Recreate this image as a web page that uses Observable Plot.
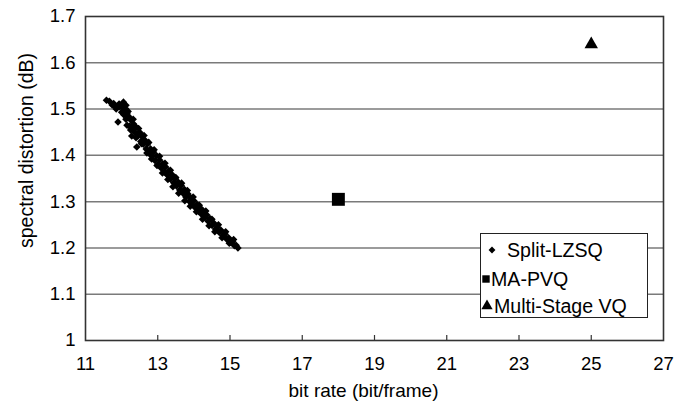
<!DOCTYPE html>
<html>
<head>
<meta charset="utf-8">
<script src="https://cdn.jsdelivr.net/npm/d3@7"></script>
<script src="https://cdn.jsdelivr.net/npm/@observablehq/plot@0.6"></script>
<style>
  body { margin: 0; background: #fff; }
  #wrap { position: relative; width: 688px; height: 408px; font-family: "Liberation Sans", Arial, sans-serif; }
  #legend { position: absolute; left: 480px; top: 233px; width: 168px; height: 85px; box-sizing: border-box;
            border: 1px solid #222; background: #fff; font-size: 19.6px; color: #000; }
  .row { position: absolute; height: 28px; line-height: 28px; white-space: nowrap; }
  .row svg { position: absolute; top: 0; }
</style>
</head>
<body>
<div id="wrap"></div>
<script>
// Split-LZSQ operating points (bit rate, spectral distortion)
const splitX = [11.58,11.66,11.74,11.8,11.88,11.95,12.03,12.1,11.9,
  12.0,12.06,12.12,12.15,12.2,12.22,12.26,12.3,12.33,12.37,12.4,12.42,12.45,12.5,12.53,12.57,12.6,12.64,12.68,12.72,12.76,12.8,12.84,12.88,
  12.92,12.97,13.01,13.05,13.1,13.14,13.18,13.22,13.27,13.31,13.35,13.4,13.44,13.48,13.52,13.57,13.61,13.65,13.7,13.74,13.78,13.83,13.87,13.91,13.95,
  14.0,14.04,14.09,14.13,14.18,14.22,14.27,14.31,14.36,14.4,14.45,14.5,14.55,14.6,
  14.65,14.7,14.75,14.8,14.86,14.91,14.96,15.02,15.07,15.12,15.17,15.22,
  12.18,12.25,12.32,12.4,12.47,12.55,12.62,12.7,12.75,12.83,12.9,12.98,13.05,13.13,13.2,13.28,13.35,13.42,13.5,
  13.58,13.66,13.75,13.82,13.9,13.98,14.07,14.15,14.24,14.33,14.42,14.5,14.58,14.68,14.78,14.88,14.98,15.1,
  11.78,11.85,11.93,12.0,12.08,12.12,12.18,12.05,12.15,12.28];
const splitY = [1.519,1.517,1.509,1.507,1.506,1.505,1.503,1.501,1.472,
  1.493,1.488,1.478,1.490,1.483,1.463,1.476,1.456,1.468,1.450,1.461,1.418,1.442,1.450,1.430,1.441,1.424,1.433,1.414,1.425,1.405,1.414,1.398,1.407,
  1.389,1.399,1.380,1.390,1.372,1.382,1.364,1.375,1.357,1.366,1.349,1.358,1.341,1.350,1.334,1.342,1.325,1.335,1.318,1.326,1.310,1.317,1.301,1.309,1.294,
  1.302,1.287,1.294,1.279,1.286,1.272,1.279,1.265,1.271,1.257,1.263,1.249,1.254,1.241,
  1.245,1.234,1.238,1.227,1.230,1.219,1.222,1.212,1.214,1.205,1.206,1.200,
  1.495,1.455,1.478,1.438,1.458,1.425,1.443,1.405,1.428,1.392,1.412,1.378,1.398,1.362,1.383,1.348,1.368,1.332,1.352,
  1.318,1.340,1.302,1.324,1.290,1.310,1.278,1.292,1.262,1.280,1.248,1.262,1.235,1.250,1.222,1.235,1.210,1.218,
  1.512,1.500,1.511,1.508,1.496,1.508,1.485,1.515,1.465,1.442];
// MA-PVQ
const mapvqX = [18];
const mapvqY = [1.305];
// Multi-Stage VQ
const msvqX = [25];
const msvqY = [1.64];

const xTicks = [11, 13, 15, 17, 19, 21, 23, 25, 27];
const yTicks = [1, 1.1, 1.2, 1.3, 1.4, 1.5, 1.6, 1.7];
const yTickLabels = ["1", "1.1", "1.2", "1.3", "1.4", "1.5", "1.6", "1.7"];
const xTitle = "bit rate (bit/frame)";
const yTitle = "spectral distortion (dB)";
const seriesNames = ["Split-LZSQ", "MA-PVQ", "Multi-Stage VQ"];

const split = splitX.map((x, i) => ({x, y: splitY[i]}));
const mapvq = mapvqX.map((x, i) => ({x, y: mapvqY[i]}));
const msvq = msvqX.map((x, i) => ({x, y: msvqY[i]}));

const W = 688, H = 408, mL = 85, mR = 25, mT = 16, mB = 68;

const chart = Plot.plot({
  width: W, height: H,
  marginLeft: mL, marginRight: mR, marginTop: mT, marginBottom: mB,
  style: {fontFamily: "'Liberation Sans', Arial, sans-serif", fontSize: "18.5px", color: "#000", background: "#fff"},
  x: {domain: [11, 27]},
  y: {domain: [1, 1.7]},
  marks: [
    Plot.gridY(yTicks.slice(1, -1), {stroke: "#7a7a7a", strokeOpacity: 1, strokeWidth: 1.5}),
    Plot.tickX(xTicks.slice(1, -1), {x: d => d, insetTop: H - mT - mB - 5, stroke: "#333", strokeWidth: 1.2}),
    Plot.frame({stroke: "#333", strokeWidth: 1.6}),
    Plot.axisX({ticks: xTicks, tickSize: 0, tickPadding: 16, label: null, fontSize: 18.5, tickFormat: d => String(d)}),
    Plot.axisY({ticks: yTicks, tickSize: 0, tickPadding: 10, label: null, fontSize: 18.5,
                tickFormat: d => yTickLabels[yTicks.indexOf(d)]}),
    Plot.text([xTitle], {frameAnchor: "bottom", textAnchor: "middle", lineAnchor: "middle", dx: -11, dy: 50, fontSize: 19, fill: "#000"}),
    Plot.text([yTitle], {frameAnchor: "left", textAnchor: "middle", lineAnchor: "middle", rotate: -90, dx: -59, dy: -28, fontSize: 19.5, fill: "#000"}),
    Plot.dot(split, {x: "x", y: "y", symbol: "diamond2", r: 3.4, fill: "#000"}),
    Plot.dot(mapvq, {x: "x", y: "y", symbol: "square", r: 7.3, fill: "#000"}),
    Plot.dot(msvq, {x: "x", y: "y", symbol: "triangle", r: 5, fill: "#000"})
  ]
});

const wrap = document.getElementById("wrap");
wrap.appendChild(chart);

// Legend (inside plot area, lower right)
const legend = document.createElement("div");
legend.id = "legend";
const rows = [
  {name: seriesNames[0], top: 2, sym: "diamond2", size: 30, mx: 11, tx: 26},
  {name: seriesNames[1], top: 31, sym: "square", size: 55, mx: 5, tx: 10},
  {name: seriesNames[2], top: 58, sym: "triangle", size: 55, mx: 6, tx: 13}
];
const symMap = {diamond2: d3.symbolDiamond2, square: d3.symbolSquare, triangle: d3.symbolTriangle};
for (const r of rows) {
  const row = document.createElement("div");
  row.className = "row";
  row.style.top = r.top + "px";
  row.style.left = "0px";
  row.style.width = "166px";
  const path = d3.symbol(symMap[r.sym], r.size)();
  row.innerHTML = `<svg width="24" height="28" style="left:0"><path d="${path}" transform="translate(${r.mx},14)" fill="#000"/></svg>` +
    `<span style="position:absolute;left:${r.tx}px;top:0">${r.name}</span>`;
  legend.appendChild(row);
}
wrap.appendChild(legend);
</script>
</body>
</html>
